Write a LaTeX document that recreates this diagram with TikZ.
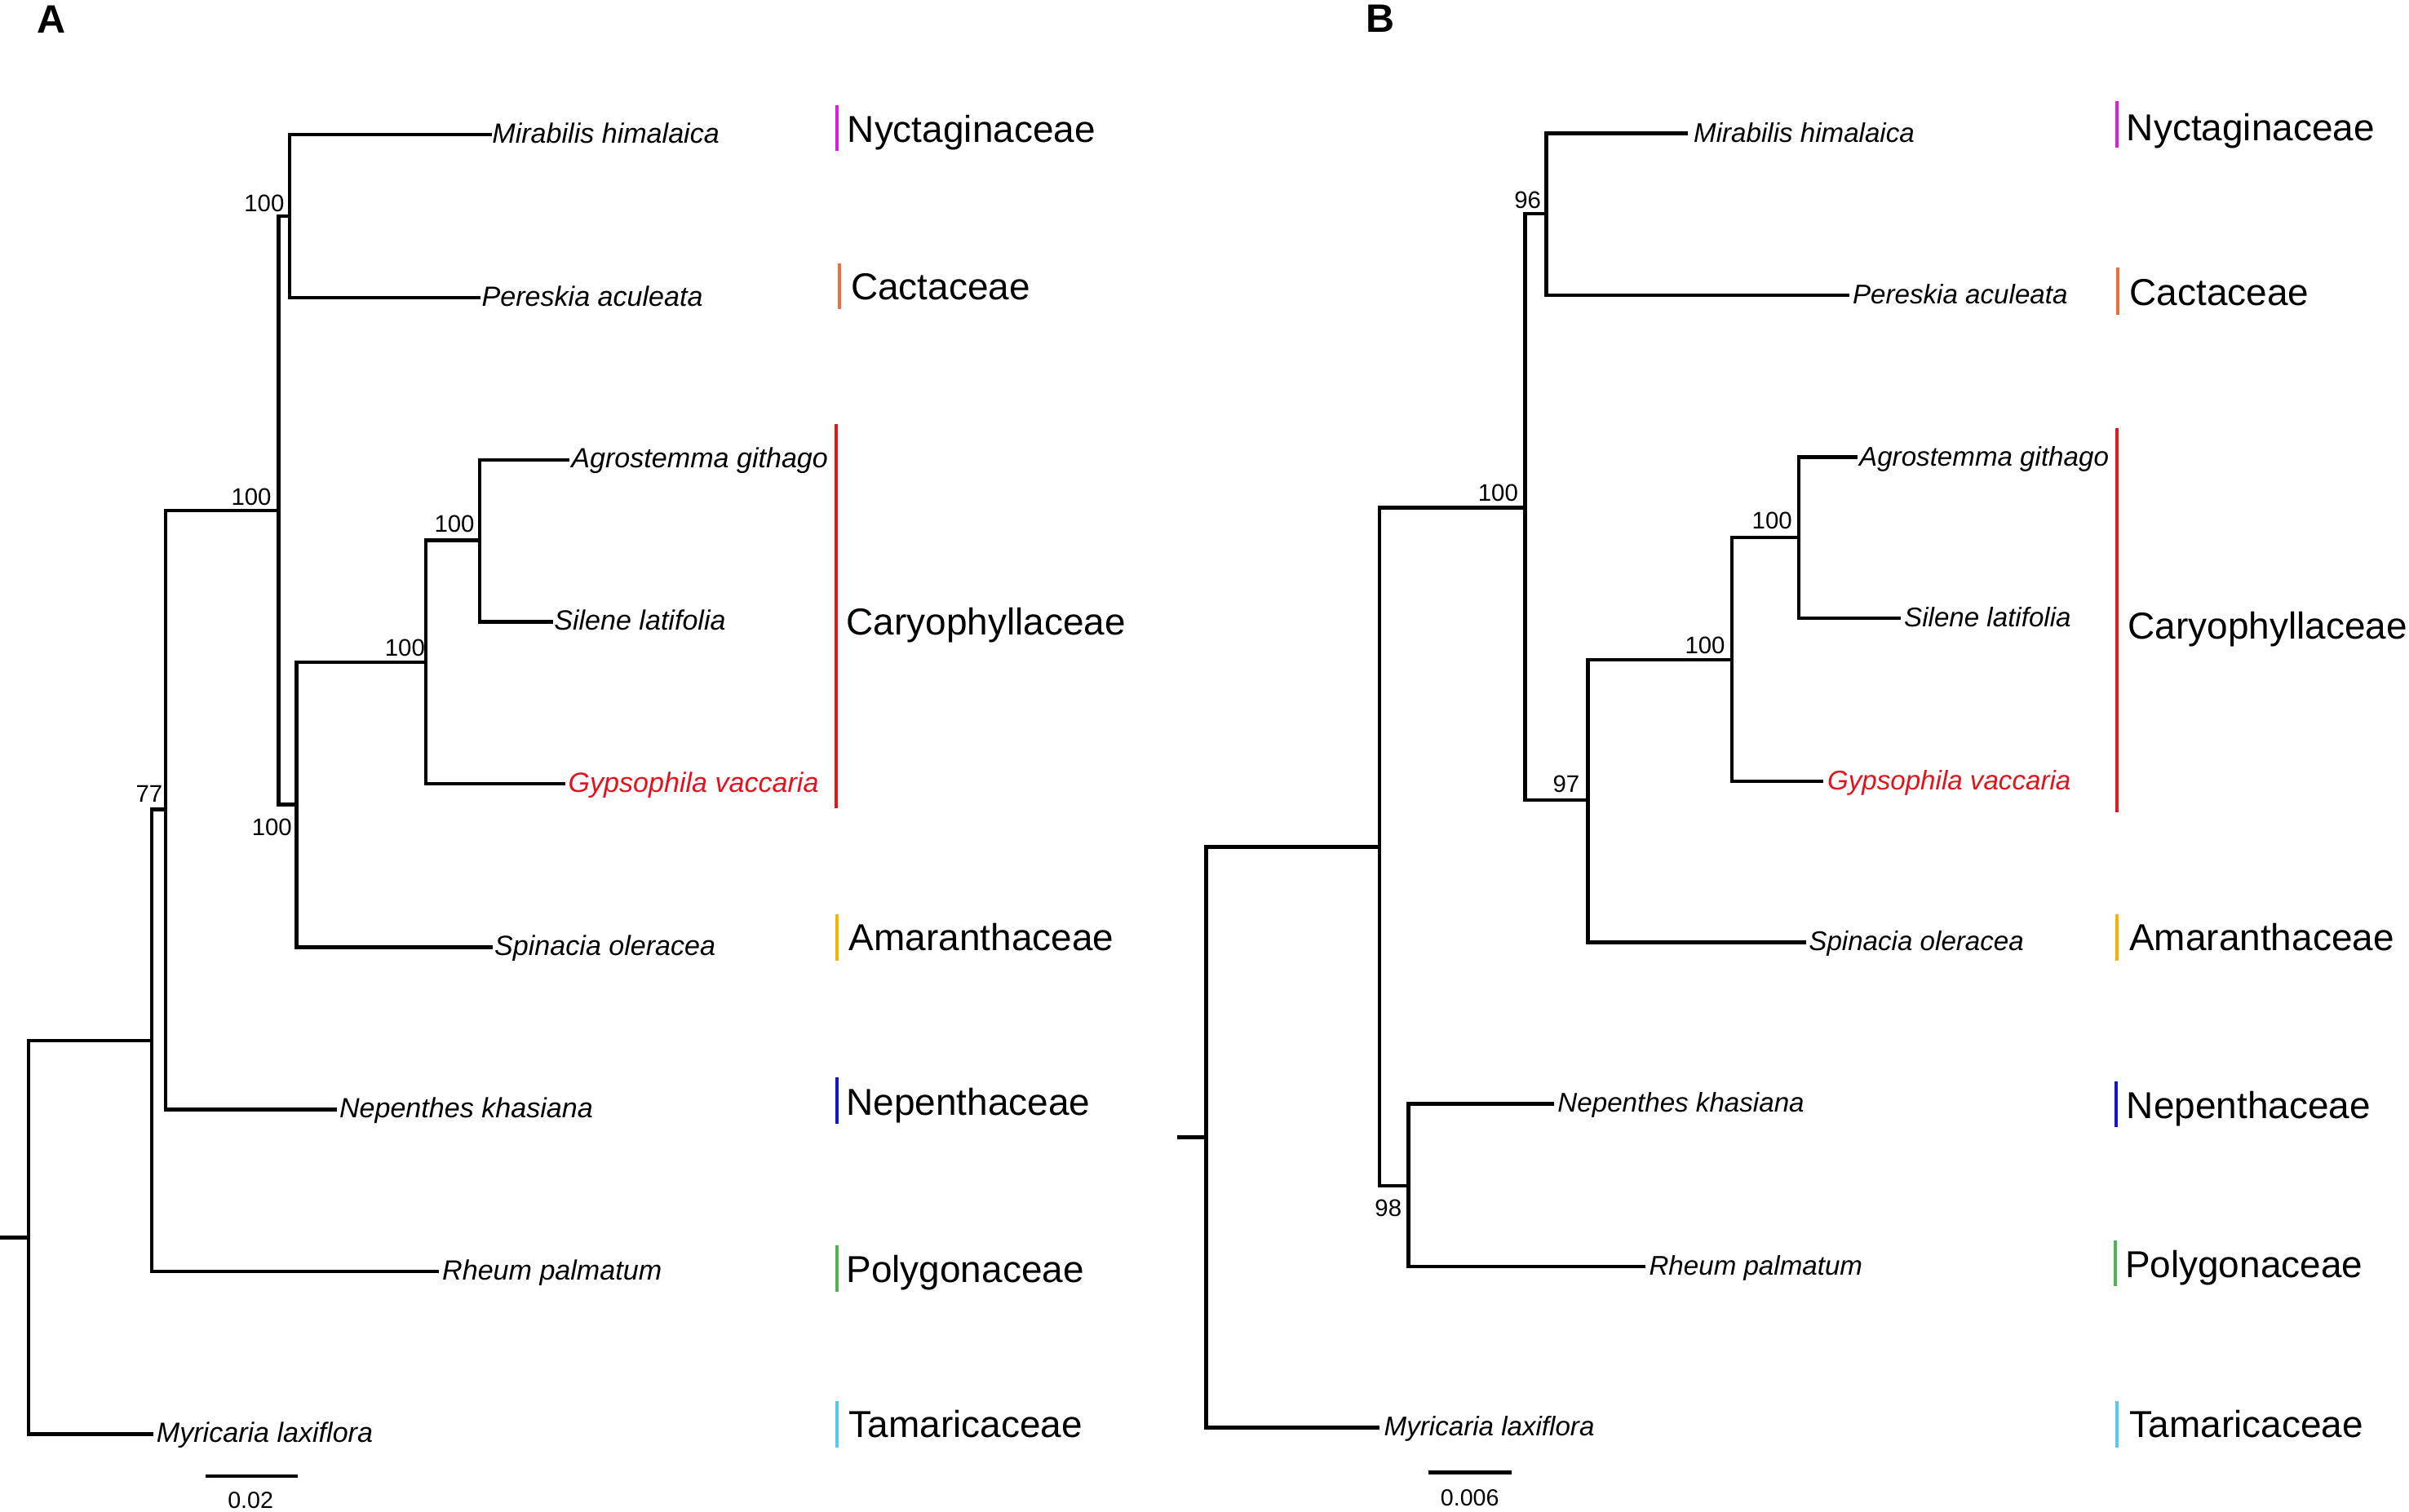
\documentclass[tikz,border=0pt]{standalone}
\usepackage{fontspec}
\setmainfont{Liberation Sans}
\definecolor{cNyct}{RGB}{222,30,222}
\definecolor{cCact}{RGB}{240,110,60}
\definecolor{cCaryo}{RGB}{232,20,28}
\definecolor{cAmar}{RGB}{245,180,0}
\definecolor{cNep}{RGB}{20,20,200}
\definecolor{cPoly}{RGB}{80,180,80}
\definecolor{cTam}{RGB}{90,200,240}
\definecolor{cGyp}{RGB}{225,20,30}
\begin{document}
\begin{tikzpicture}[x=0.5pt,y=-0.5pt,
  branch/.style={line width=1.15pt,line join=miter,line cap=rect},
  famtag/.style={line width=1.1pt},
  tiplab/.style={anchor=base west,inner sep=0pt,font=\fontsize{9.05}{10}\selectfont\itshape},
  tiplabB/.style={anchor=base west,inner sep=0pt,font=\fontsize{8.8}{10}\selectfont\itshape},
  famlab/.style={anchor=base west,inner sep=0pt,font=\fontsize{12.2}{14}\selectfont},
  supp/.style={anchor=base east,inner sep=0pt,font=\fontsize{7.8}{9}\selectfont},
  scalelab/.style={anchor=base,inner sep=0pt,font=\fontsize{7.6}{9}\selectfont},
  panel/.style={anchor=base west,inner sep=0pt,font=\fontsize{12.9}{14}\selectfont\bfseries}]
\useasboundingbox (0,0) rectangle (1568,984.4);

% ---------------- Panel A ----------------
\node[panel] (labA) at (24,21.6) {A};
\coordinate (aStub) at (0,805.8);
\coordinate (aRoot) at (18.5,805.8);
\coordinate (aN98) at (98.7,677.5);
\coordinate (aN107) at (107.8,527);
\coordinate (aN181) at (181.4,332.5);
\coordinate (aN188) at (188.4,140.6);
\coordinate (aN193) at (193,523.8);
\coordinate (aN277) at (277,431.3);
\coordinate (aN312) at (312.2,351.8);
\coordinate (aMir) at (318.8,87.5);
\coordinate (aPer) at (311.7,193.7);
\coordinate (aAgr) at (369.4,299.3);
\coordinate (aSil) at (358.8,404.9);
\coordinate (aGyp) at (366.9,510.2);
\coordinate (aSpi) at (319.3,616.8);
\coordinate (aNep) at (218,722.4);
\coordinate (aRhe) at (284.7,827.7);
\coordinate (aMyr) at (98.7,933.7);

\draw[branch] (aStub) -- (aRoot);
\draw[branch] (aRoot) |- (aN98);
\draw[branch] (aRoot) |- (aMyr);
\draw[branch] (aN98) |- (aN107);
\draw[branch] (aN98) |- (aRhe);
\draw[branch] (aN107) |- (aN181);
\draw[branch] (aN107) |- (aNep);
\draw[branch] (aN181) |- (aN188);
\draw[branch] (aN181) |- (aN193);
\draw[branch] (aN188) |- (aMir);
\draw[branch] (aN188) |- (aPer);
\draw[branch] (aN193) |- (aN277);
\draw[branch] (aN193) |- (aSpi);
\draw[branch] (aN277) |- (aN312);
\draw[branch] (aN277) |- (aGyp);
\draw[branch] (aN312) |- (aAgr);
\draw[branch] (aN312) |- (aSil);

\node[tiplab] (taMir) at (320,93.2) {Mirabilis himalaica};
\node[tiplab] (taPer) at (313.2,199.3) {Pereskia aculeata};
\node[tiplab] (taAgr) at (371.5,304.5) {Agrostemma githago};
\node[tiplab] (taSil) at (360.3,410.4) {Silene latifolia};
\node[tiplab,text=cGyp] (taGyp) at (369.5,515.7) {Gypsophila vaccaria};
\node[tiplab] (taSpi) at (321.5,622.3) {Spinacia oleracea};
\node[tiplab] (taNep) at (220.5,727.9) {Nepenthes khasiana};
\node[tiplab] (taRhe) at (287.5,833.2) {Rheum palmatum};
\node[tiplab] (taMyr) at (101.5,939.2) {Myricaria laxiflora};

\node[supp] (saN188) at (185.4,137.7) {100};
\node[supp] (saN181) at (177,328.9) {100};
\node[supp] (saN277) at (277,427.4) {100};
\node[supp] (saN312) at (309.2,346.6) {100};
\node[supp] (saN193) at (190.4,544) {100};
\node[supp] (saN107) at (106.2,522) {77};

\coordinate (aSc1) at (133.6,961);
\coordinate (aSc2) at (193.8,961);
\draw[branch,line cap=butt] (aSc1) -- (aSc2);
\node[scalelab] (aScL) at (163.1,982.3) {0.02};

% family bars A
\coordinate (aNyT) at (544.8,68.7);  \coordinate (aNyB) at (544.8,98.2);
\coordinate (aCaT) at (546.3,171.5); \coordinate (aCaB) at (546.3,201.5);
\coordinate (aCrT) at (544.3,276.1); \coordinate (aCrB) at (544.3,526.4);
\coordinate (aAmT) at (544.8,595.2); \coordinate (aAmB) at (544.8,625.5);
\coordinate (aNeT) at (544.8,701.4); \coordinate (aNeB) at (544.8,731.8);
\coordinate (aPoT) at (544.8,810.6); \coordinate (aPoB) at (544.8,841);
\coordinate (aTaT) at (544.8,912);   \coordinate (aTaB) at (544.8,942.4);
\draw[famtag,cNyct] (aNyT) -- (aNyB);
\draw[famtag,cCact] (aCaT) -- (aCaB);
\draw[famtag,cCaryo] (aCrT) -- (aCrB);
\draw[famtag,cAmar] (aAmT) -- (aAmB);
\draw[famtag,cNep] (aNeT) -- (aNeB);
\draw[famtag,cPoly] (aPoT) -- (aPoB);
\draw[famtag,cTam] (aTaT) -- (aTaB);
\node[famlab] (faNy) at (551.2,92.9) {Nyctaginaceae};
\node[famlab] (faCa) at (553.5,195.4) {Cactaceae};
\node[famlab] (faCr) at (550.5,413.6) {Caryophyllaceae};
\node[famlab] (faAm) at (552.3,619) {Amaranthaceae};
\node[famlab] (faNe) at (550.5,726) {Nepenthaceae};
\node[famlab] (faPo) at (550.5,835) {Polygonaceae};
\node[famlab] (faTa) at (552.3,935.6) {Tamaricaceae};

% ---------------- Panel B ----------------
\node[panel] (labB) at (888.5,21.2) {B};
\coordinate (bStub) at (767.2,740.5);
\coordinate (bRoot) at (785.1,740.5);
\coordinate (bN1) at (897.8,551.5);
\coordinate (bN2) at (992.6,330.5);
\coordinate (bN96) at (1006.4,139);
\coordinate (bN97) at (1033.6,520.8);
\coordinate (bNC) at (1127.3,429.7);
\coordinate (bNAS) at (1170.9,349.9);
\coordinate (bN98) at (916.8,771.9);
\coordinate (bMir) at (1097.6,86.9);
\coordinate (bPer) at (1202.6,192.1);
\coordinate (bAgr) at (1207.8,297.7);
\coordinate (bSil) at (1236,402.6);
\coordinate (bGyp) at (1185.7,508.6);
\coordinate (bSpi) at (1174.5,613.6);
\coordinate (bNep) at (1010.5,718.6);
\coordinate (bRhe) at (1070,824.5);
\coordinate (bMyr) at (896.8,929.5);

\draw[branch] (bStub) -- (bRoot);
\draw[branch] (bRoot) |- (bN1);
\draw[branch] (bRoot) |- (bMyr);
\draw[branch] (bN1) |- (bN2);
\draw[branch] (bN1) |- (bN98);
\draw[branch] (bN2) |- (bN96);
\draw[branch] (bN2) |- (bN97);
\draw[branch] (bN96) |- (bMir);
\draw[branch] (bN96) |- (bPer);
\draw[branch] (bN97) |- (bNC);
\draw[branch] (bN97) |- (bSpi);
\draw[branch] (bNC) |- (bNAS);
\draw[branch] (bNC) |- (bGyp);
\draw[branch] (bNAS) |- (bAgr);
\draw[branch] (bNAS) |- (bSil);
\draw[branch] (bN98) |- (bNep);
\draw[branch] (bN98) |- (bRhe);

\node[tiplabB] (tbMir) at (1102,92.4) {Mirabilis himalaica};
\node[tiplabB] (tbPer) at (1205.5,197.6) {Pereskia aculeata};
\node[tiplabB] (tbAgr) at (1209.8,303.2) {Agrostemma githago};
\node[tiplabB] (tbSil) at (1239,408.1) {Silene latifolia};
\node[tiplabB,text=cGyp] (tbGyp) at (1189,514.1) {Gypsophila vaccaria};
\node[tiplabB] (tbSpi) at (1177,619.1) {Spinacia oleracea};
\node[tiplabB] (tbNep) at (1013.5,724.1) {Nepenthes khasiana};
\node[tiplabB] (tbRhe) at (1073,830) {Rheum palmatum};
\node[tiplabB] (tbMyr) at (900.5,935) {Myricaria laxiflora};

\node[supp] (sbN96) at (1003.4,135.5) {96};
\node[supp] (sbN2) at (988.5,326.4) {100};
\node[supp] (sbNC) at (1123.2,425.5) {100};
\node[supp] (sbNAS) at (1166.8,344.4) {100};
\node[supp] (sbN97) at (1028.5,515.7) {97};
\node[supp] (sbN98) at (912.7,792) {98};

\coordinate (bSc1) at (929.6,958.6);
\coordinate (bSc2) at (983.9,958.6);
\draw[branch,line cap=butt] (bSc1) -- (bSc2);
\node[scalelab] (bScL) at (956.7,980.2) {0.006};

% family bars B
\coordinate (bNyT) at (1377.9,66);    \coordinate (bNyB) at (1377.9,96.2);
\coordinate (bCaT) at (1378.4,174.4); \coordinate (bCaB) at (1378.4,204.7);
\coordinate (bCrT) at (1377.9,278.7); \coordinate (bCrB) at (1377.9,528.6);
\coordinate (bAmT) at (1377.9,595.2); \coordinate (bAmB) at (1377.9,625.5);
\coordinate (bNeT) at (1377.4,704);   \coordinate (bNeB) at (1377.4,734);
\coordinate (bPoT) at (1376.9,807.4); \coordinate (bPoB) at (1376.9,837.5);
\coordinate (bTaT) at (1377.9,912.4); \coordinate (bTaB) at (1377.9,942.4);
\draw[famtag,cNyct] (bNyT) -- (bNyB);
\draw[famtag,cCact] (bCaT) -- (bCaB);
\draw[famtag,cCaryo] (bCrT) -- (bCrB);
\draw[famtag,cAmar] (bAmT) -- (bAmB);
\draw[famtag,cNep] (bNeT) -- (bNeB);
\draw[famtag,cPoly] (bPoT) -- (bPoB);
\draw[famtag,cTam] (bTaT) -- (bTaB);
\node[famlab] (fbNy) at (1383.8,91.7) {Nyctaginaceae};
\node[famlab] (fbCa) at (1385.8,198.6) {Cactaceae};
\node[famlab] (fbCr) at (1384.8,415.8) {Caryophyllaceae};
\node[famlab] (fbAm) at (1385.6,619) {Amaranthaceae};
\node[famlab] (fbNe) at (1383.8,728.3) {Nepenthaceae};
\node[famlab] (fbPo) at (1382.8,831.6) {Polygonaceae};
\node[famlab] (fbTa) at (1385.8,935.6) {Tamaricaceae};
\end{tikzpicture}
\end{document}
